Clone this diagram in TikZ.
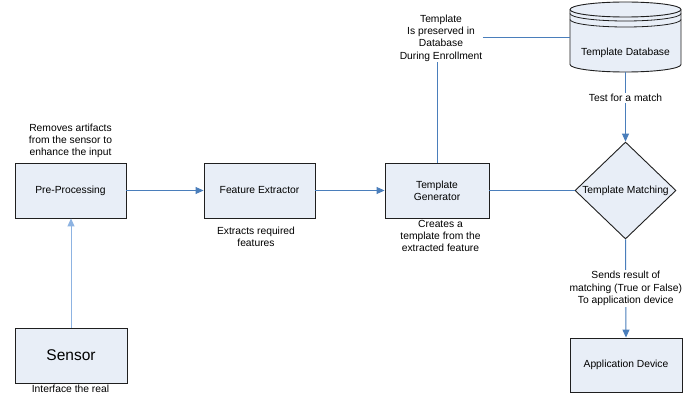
\documentclass[tikz,border=0pt]{standalone}
\usepackage{fontspec}
\setmainfont{Liberation Sans}
\usetikzlibrary{arrows.meta,shapes.geometric}
\definecolor{boxfill}{HTML}{E8EEF7}
\definecolor{boxline}{HTML}{1F1F1F}
\definecolor{conn}{HTML}{4A7EBB}
\definecolor{connlight}{HTML}{8DB3E2}
\tikzset{
  stepbox/.style={draw=boxline, line width=0.9pt, fill=boxfill, inner sep=0pt,
    minimum width=111pt, minimum height=55pt, align=center},
  lbl/.style={align=center, inner sep=0.5pt},
  conline/.style={draw=conn, line width=1pt},
  conarrow/.style={conline, -{Triangle[length=8pt,width=7pt]}},
  every node/.style={font=\fontsize{10.3}{12.3}\selectfont},
}
\begin{document}
\begin{tikzpicture}[x=1pt,y=-1pt]
\fill[white] (0,0) rectangle (693,393);
\useasboundingbox (0,0) rectangle (693,393);

% boxes
\node[stepbox] (pre) at (70.5,190.5) {Pre-Processing};
\node[stepbox] (feat) at (259.5,190.5) {Feature Extractor};
\node[stepbox, minimum width=104pt] (gen) at (437,190.5) {Template\\Generator};
\node[stepbox, minimum width=112pt, font=\fontsize{15.5}{18}\selectfont] (sensor) at (71,355.5) {Sensor};
\node[stepbox, minimum width=112pt, minimum height=54pt] (app) at (626,365) {Application Device};
\node[diamond, draw=boxline, line width=0.9pt, fill=boxfill, inner sep=0pt,
      minimum width=101pt, minimum height=97pt,
      label={center:Template Matching}] (match) at (625.5,190.5) {};

% database cylinder
\node[inner sep=0pt, minimum width=111pt, minimum height=70pt] (db) at (625.5,37) {};
\filldraw[draw=boxline, line width=0.9pt, fill=boxfill]
  (570,9.5) -- (570,64.5)
  arc[start angle=180,end angle=360,x radius=55.5pt,y radius=7.5pt]
  -- (681,9.5)
  arc[start angle=0,end angle=180,x radius=55.5pt,y radius=7.5pt] -- cycle;
\draw[boxline, line width=0.9pt] (570,9.5)
  arc[start angle=180,end angle=360,x radius=55.5pt,y radius=7.5pt];
\draw[boxline, line width=0.8pt] (570,13.5)
  arc[start angle=180,end angle=360,x radius=55.5pt,y radius=7.5pt];
\draw[boxline, line width=0.8pt] (570,19.5)
  arc[start angle=180,end angle=360,x radius=55.5pt,y radius=7.5pt];
\node (dbtext) at (625.5,53) {Template Database};

% labels
\node[lbl] (remove) at (70.5,141) {Removes artifacts\\from the sensor to\\enhance the input};
\node[lbl] (extract) at (256,237) {Extracts required\\features};
\node[lbl] (creates) at (440.5,236) {Creates a\\template from the\\extracted feature};
\node[lbl] (enroll) at (441,38) {Template\\Is preserved in\\Database\\During Enrollment};
\node[lbl] (iface) at (70.5,388.5) {Interface the real};

% connectors
\draw[conarrow, draw=connlight, -{Triangle[length=8pt,width=7pt]}] (sensor.north) -- (sensor.north |- pre.south);
\draw[conarrow] (pre.east) -- (feat.west);
\draw[conarrow] (feat.east) -- (gen.west);
\draw[conline] (gen.east) -- (match.west);
\draw[conline] (gen.north) -- (gen.north |- enroll.south);
\draw[conline] (enroll.east) -- (enroll.east -| db.west);
\draw[conarrow] (db.south) -- (match.north)
  node[pos=0.37, fill=white, inner sep=1.5pt] (test) {Test for a match};
\draw[conarrow] (match.south) -- (app.north)
  node[midway, fill=white, inner sep=1.5pt, align=center] (sends)
  {Sends result of\\matching (True or False)\\To application device};
\end{tikzpicture}
\end{document}
